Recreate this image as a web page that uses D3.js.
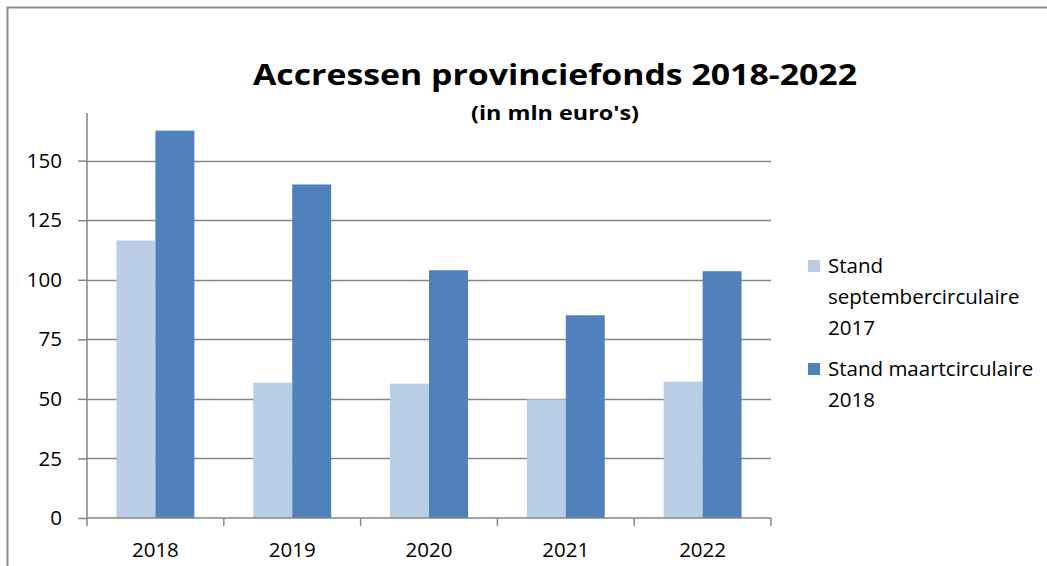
<!DOCTYPE html>
<html>
<head>
<meta charset="utf-8">
<script src="https://cdn.jsdelivr.net/npm/d3@7"></script>
<style>
	body { margin: 0; background: #fff; }
	svg { display: block; font-family: 'Open Sans', sans-serif; }
</style>
</head>
<body>
<svg class="chart"></svg>
<script>
const years = ['2018', '2019', '2020', '2021', '2022'];
const septValues = [116.5, 56.8, 56.4, 49.8, 57.2];
const maartValues = [162.6, 140.0, 104.0, 85.1, 103.6];
const seriesNames = ['Stand septembercirculaire 2017', 'Stand maartcirculaire 2018'];
const seriesColors = ['#B9CDE5', '#4F81BD'];
const yTicks = [0, 25, 50, 75, 100, 125, 150];

const svg = d3.select('.chart')
	.attr('width', 1047)
	.attr('height', 566);

let margin = { top: 113, left: 87, right: 276, bottom: 48 },
	innerWidth = 1047 - margin.left - margin.right,
	innerHeight = 566 - margin.top - margin.bottom,
	fontSize = 20.5;

// shift a start-anchored text so it sits centred (k = 0.5) or right-aligned (k = 1) on x
const anchorAt = (sel, x, k) => sel.each(function (d, i) {
	const w = this.getComputedTextLength();
	const cx = typeof x === 'function' ? x(d, i) : x;
	d3.select(this).attr('x', cx - w * k);
});

// outer frame (cut off on the right and bottom)
svg.append('path')
	.attr('d', 'M7.5,566 L7.5,7.5 L1047,7.5')
	.attr('fill', 'none')
	.attr('stroke', '#8c8c8c')
	.attr('stroke-width', 2);

svg.append('text')
	.attr('y', 85)
	.attr('font-size', 29)
	.attr('font-weight', 'bold')
	.attr('textLength', 604)
	.attr('lengthAdjust', 'spacingAndGlyphs')
	.attr('x', 555 - 302)
	.text('Accressen provinciefonds 2018-2022');

svg.append('text')
	.attr('y', 120)
	.attr('font-size', 19)
	.attr('font-weight', 'bold')
	.attr('textLength', 168)
	.attr('lengthAdjust', 'spacingAndGlyphs')
	.attr('x', 555 - 84)
	.text("(in mln euro's)");

const xScale = d3.scaleBand()
	.domain(years)
	.range([0, innerWidth]);

const innerScale = d3.scaleBand()
	.domain([0, 1])
	.range([0, xScale.bandwidth()])
	.paddingInner(0)
	.paddingOuter(0.755);

const yScale = d3.scaleLinear()
	.domain([0, 170])
	.range([innerHeight, 0]);

const g = svg.append('g')
	.attr('transform', `translate(${margin.left}, ${margin.top})`);

// gridlines
g.selectAll('.grid')
	.data(yTicks.slice(1))
	.enter().append('line')
	.attr('x1', 0).attr('x2', innerWidth)
	.attr('y1', d => Math.round(yScale(d)) + 0.5)
	.attr('y2', d => Math.round(yScale(d)) + 0.5)
	.attr('stroke', '#868686')
	.attr('stroke-width', 1.5);

const data = years.map((y, i) => ({ year: y, values: [septValues[i], maartValues[i]] }));

g.selectAll('.group')
	.data(data)
	.enter().append('g')
	.attr('transform', d => `translate(${xScale(d.year)}, 0)`)
	.selectAll('rect')
	.data(d => d.values)
	.enter().append('rect')
	.attr('x', (d, i) => innerScale(i))
	.attr('width', innerScale.bandwidth())
	.attr('y', d => yScale(d))
	.attr('height', d => innerHeight - yScale(d))
	.attr('fill', (d, i) => seriesColors[i]);

// y axis
const yAxis = d3.axisLeft(yScale)
	.tickValues(yTicks)
	.tickSize(9)
	.tickPadding(16);
const yAxisG = g.append('g').call(yAxis);
yAxisG.select('.domain').remove();
yAxisG.selectAll('line').attr('stroke', '#868686').attr('stroke-width', 1.5);
yAxisG.selectAll('text')
	.attr('font-size', fontSize)
	.attr('fill', '#000')
	.attr('font-family', "'Open Sans', sans-serif")
	.attr('text-anchor', 'start')
	.call(anchorAt, -25, 1);
yAxisG.attr('text-anchor', 'start');
g.append('line')
	.attr('x1', 0).attr('x2', 0)
	.attr('y1', 0).attr('y2', innerHeight)
	.attr('stroke', '#868686').attr('stroke-width', 1.5);

// x axis
const xAxisG = g.append('g')
	.attr('transform', `translate(0, ${innerHeight})`);
xAxisG.append('line')
	.attr('x1', 0).attr('x2', innerWidth)
	.attr('stroke', '#868686').attr('stroke-width', 1.5);
xAxisG.selectAll('.tick')
	.data(years.concat(['end']))
	.enter().append('line')
	.attr('x1', (d, i) => i * xScale.step())
	.attr('x2', (d, i) => i * xScale.step())
	.attr('y1', 0).attr('y2', 8)
	.attr('stroke', '#868686').attr('stroke-width', 1.5);
xAxisG.selectAll('.label')
	.data(years)
	.enter().append('text')
	.attr('y', 39)
	.attr('font-size', fontSize)
	.text(d => d)
	.call(anchorAt, d => xScale(d) + xScale.bandwidth() / 2, 0.5);

// legend
const legendLines = [['Stand', 'septembercirculaire', '2017'], ['Stand maartcirculaire', '2018']];
const legendTop = [266, 369];
legendLines.forEach((lines, i) => {
	svg.append('rect')
		.attr('x', 808).attr('y', legendTop[i] - 6)
		.attr('width', 12).attr('height', 12)
		.attr('fill', seriesColors[i]);
	lines.forEach((t, j) => {
		svg.append('text')
			.attr('x', 828)
			.attr('y', legendTop[i] + j * 31 + 7)
			.attr('font-size', fontSize)
			.text(t);
	});
});
</script>
</body>
</html>
